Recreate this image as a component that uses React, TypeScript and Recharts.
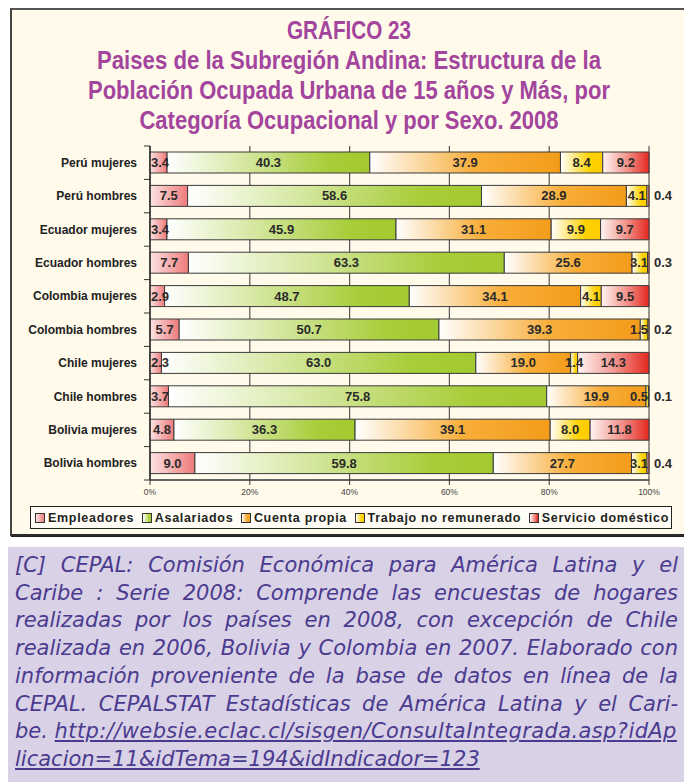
import React from "react";
import { BarChart, Bar, XAxis, YAxis, CartesianGrid, LabelList } from "recharts";

const categories = [
  "Perú mujeres",
  "Perú hombres",
  "Ecuador mujeres",
  "Ecuador hombres",
  "Colombia mujeres",
  "Colombia hombres",
  "Chile mujeres",
  "Chile hombres",
  "Bolivia mujeres",
  "Bolivia hombres",
];
const empleadores = [3.4, 7.5, 3.4, 7.7, 2.9, 5.7, 2.3, 3.7, 4.8, 9.0];
const asalariados = [40.3, 58.6, 45.9, 63.3, 48.7, 50.7, 63.0, 75.8, 36.3, 59.8];
const cuentaPropia = [37.9, 28.9, 31.1, 25.6, 34.1, 39.3, 19.0, 19.9, 39.1, 27.7];
const trabajoNoRemunerado = [8.4, 4.1, 9.9, 3.1, 4.1, 1.5, 1.4, 0.5, 8.0, 3.1];
const servicioDomestico = [9.2, 0.4, 9.7, 0.3, 9.5, 0.2, 14.3, 0.1, 11.8, 0.4];
const xTicks = [0, 0.2, 0.4, 0.6, 0.8, 1];

const titleLines = [
  "GRÁFICO 23",
  "Paises de la Subregión Andina: Estructura de la",
  "Población Ocupada Urbana de 15 años y Más, por",
  "Categoría Ocupacional y por Sexo. 2008",
];

const noteLines = [
  "[C] CEPAL: Comisión Económica para América Latina y el",
  "Caribe : Serie 2008: Comprende las encuestas de hogares",
  "realizadas por los países en 2008, con excepción de Chile",
  "realizada en 2006, Bolivia y Colombia en 2007. Elaborado con",
  "información proveniente de la base de datos en línea de la",
  "CEPAL. CEPALSTAT Estadísticas de América Latina y el Cari-",
];
const noteUrl1 = "http://websie.eclac.cl/sisgen/ConsultaIntegrada.asp?idAp";
const noteUrl2 = "licacion=11&idTema=194&idIndicador=123";

const series = [
  { key: "emp", name: "Empleadores", values: empleadores, stops: [[0, "#fde3e3"], [1, "#ee7a7a"]] },
  { key: "asa", name: "Asalariados", values: asalariados, stops: [[0, "#ffffff"], [0.8, "#a7cd38"], [1, "#a3ca30"]] },
  { key: "cta", name: "Cuenta propia", values: cuentaPropia, stops: [[0, "#ffffff"], [0.55, "#f8ae3a"], [1, "#f39c1a"]] },
  { key: "tnr", name: "Trabajo no remunerado", values: trabajoNoRemunerado, stops: [[0, "#ffffff"], [0.7, "#ffd200"], [1, "#ffcc00"]] },
  { key: "srv", name: "Servicio doméstico", values: servicioDomestico, stops: [[0, "#fff4f2"], [0.5, "#f29a92"], [1, "#e4281f"]] },
];

const data = categories.map((cat, i) => {
  const row: Record<string, string | number> = { cat };
  series.forEach((s) => (row[s.key] = s.values[i]));
  return row;
});

const FONT = "'Liberation Sans', Arial, sans-serif";
const HALF_BAND = 16.7;
const PLOT_LEFT = 150;
const PLOT_RIGHT = 649;

function CategoryTick(props: any) {
  const { x, y, payload, index } = props;
  return (
    <g>
      <text x={x - 13} y={y} dy={4} textAnchor="end" fontSize={12} fontWeight="bold" fill="#222" fontFamily={FONT}>
        {payload.value}
      </text>
      <line x1={x - 6} x2={x} y1={y - HALF_BAND} y2={y - HALF_BAND} stroke="#333" />
      {index === categories.length - 1 && (
        <line x1={x - 6} x2={x} y1={y + HALF_BAND} y2={y + HALF_BAND} stroke="#333" />
      )}
    </g>
  );
}

const makeLabel = (values: number[], outsideSmall: boolean) => (props: any) => {
  const vb = props.viewBox && props.viewBox.width != null ? props.viewBox : props;
  const { x, y, width, height } = vb;
  const idx = props.index;
  const v = typeof idx === "number" ? values[idx] : Number(props.value);
  if (v == null || isNaN(v)) return null;
  const outside = outsideSmall && v < 1;
  const txt = v.toFixed(1);
  const half = (txt.length * 7.2 - 3.6) / 2;
  let cx = x + width / 2;
  cx = Math.min(cx, PLOT_RIGHT - half - 1);
  cx = Math.max(cx, PLOT_LEFT + half + 1);
  return (
    <text
      x={outside ? x + width + 5 : cx}
      y={y + height / 2}
      dy={4.5}
      textAnchor={outside ? "start" : "middle"}
      fontSize={13}
      fontWeight="bold"
      fill="#2a2a2a"
      fontFamily={FONT}
    >
      {txt}
    </text>
  );
};

const cssGradient = (stops: (string | number)[][]) =>
  `linear-gradient(to right, ${stops.map(([o, c]) => `${c} ${Number(o) * 100}%`).join(", ")})`;

export default function App() {
  return (
    <div style={{ position: "relative", width: 692, height: 782, margin: "-8px 0 0 -8px", background: "#fff", overflow: "hidden" }}>
      <div
        style={{
          position: "absolute",
          left: 10,
          top: 8,
          width: 678,
          height: 528,
          boxSizing: "border-box",
          background: "#fffaea",
          border: "2px solid #2b2b2b",
          borderTopColor: "#555",
          borderLeftColor: "#444",
          boxShadow: "1px 1px 0 #222",
        }}
      />
      <svg style={{ position: "absolute", left: 0, top: 0 }} width={692} height={140}>
        {titleLines.map((t, i) => (
          <text
            key={i}
            x={349}
            y={39 + i * 30}
            textAnchor="middle"
            fontSize={25}
            fontWeight="bold"
            fill="#a3459d"
            fontFamily={FONT}
            textLength={[124, 504, 522, 419][i]}
            lengthAdjust="spacingAndGlyphs"
          >
            {t}
          </text>
        ))}
      </svg>
      <div style={{ position: "absolute", left: 0, top: 0 }}>
        <BarChart
          width={692}
          height={510}
          data={data}
          layout="vertical"
          stackOffset="expand"
          barSize={21}
          margin={{ top: 146, right: 43, bottom: 5, left: 0 }}
        >
          <defs>
            {series.map((s) => (
              <linearGradient key={s.key} id={`grad-${s.key}`} x1="0" y1="0" x2="1" y2="0">
                {s.stops.map(([o, c], j) => (
                  <stop key={j} offset={o as number} stopColor={c as string} />
                ))}
              </linearGradient>
            ))}
          </defs>
          <CartesianGrid horizontal={false} stroke="#555" strokeWidth={1.2} />
          <XAxis
            type="number"
            domain={[0, 1]}
            ticks={xTicks}
            tickFormatter={(v: number) => `${Math.round(v * 100)}%`}
            tick={{ fontSize: 8.5, fill: "#444", fontFamily: FONT }}
            tickSize={5}
            tickMargin={4}
            height={25}
            stroke="#333"
            axisLine={{ stroke: "#333", strokeWidth: 1.5 }}
          />
          <YAxis
            type="category"
            dataKey="cat"
            width={150}
            tick={<CategoryTick />}
            tickSize={0}
            tickMargin={0}
            interval={0}
            axisLine={{ stroke: "#333", strokeWidth: 1.5 }}
          />
          {series.map((s, i) => (
            <Bar
              key={s.key}
              dataKey={s.key}
              name={s.name}
              stackId="a"
              fill={`url(#grad-${s.key})`}
              stroke="#3a3a3a"
              strokeWidth={1}
              isAnimationActive={false}
            >
              <LabelList dataKey={s.key} content={makeLabel(s.values, i === series.length - 1)} />
            </Bar>
          ))}
        </BarChart>
      </div>
      <div
        style={{
          position: "absolute",
          left: 30,
          top: 506,
          width: 642,
          height: 23,
          boxSizing: "border-box",
          border: "1px solid #222",
          background: "#fffdf6",
          display: "flex",
          alignItems: "center",
          justifyContent: "space-between",
          padding: "0 2px 0 4px",
          fontFamily: FONT,
          fontWeight: "bold",
          fontSize: 12.5,
          letterSpacing: 0.7,
          color: "#222",
          whiteSpace: "nowrap",
        }}
      >
        {series.map((s) => (
          <span key={s.key} style={{ display: "flex", alignItems: "center" }}>
            <span
              style={{
                display: "inline-block",
                width: 8,
                height: 8,
                border: "1px solid #333",
                background: cssGradient(s.stops),
                marginRight: 3,
              }}
            />
            {s.name}
          </span>
        ))}
      </div>
      <div
        style={{
          position: "absolute",
          left: 8,
          top: 547,
          width: 684,
          height: 235,
          boxSizing: "border-box",
          background: "#d9d1e6",
          padding: "5px 14px 0 7px",
          fontFamily: "'DejaVu Sans', Verdana, sans-serif",
          fontStyle: "italic",
          fontSize: 21,
          lineHeight: "27.7px",
          color: "#4b3b8f",
        }}
      >
        {noteLines.map((l, i) => (
          <div key={i} style={{ textAlign: "justify", textAlignLast: "justify", whiteSpace: "nowrap" }}>
            {l}
          </div>
        ))}
        <div style={{ whiteSpace: "nowrap" }}>
          be. <span style={{ textDecoration: "underline", letterSpacing: 0.4 }}>{noteUrl1}</span>
        </div>
        <div style={{ whiteSpace: "nowrap" }}>
          <span style={{ textDecoration: "underline" }}>{noteUrl2}</span>
        </div>
      </div>
    </div>
  );
}
